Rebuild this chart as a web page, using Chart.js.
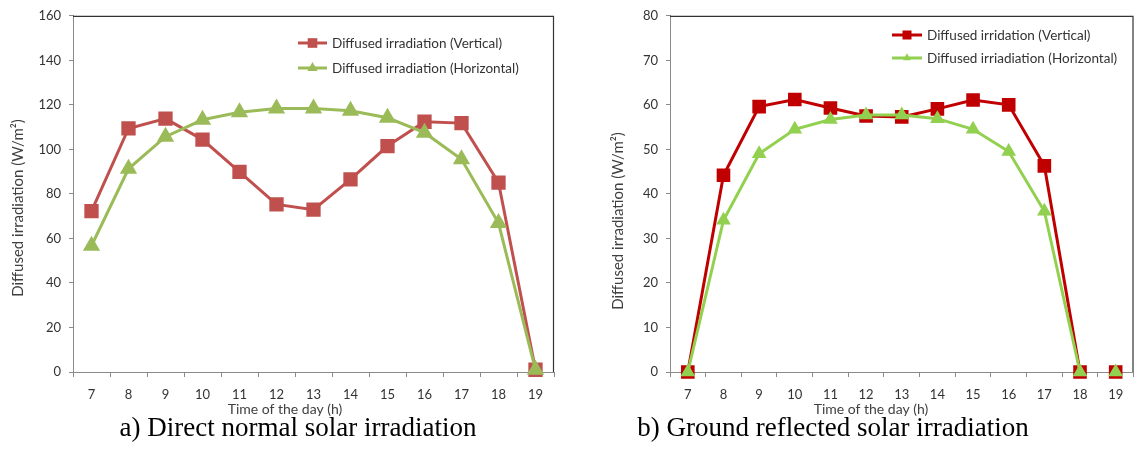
<!DOCTYPE html>
<html>
<head>
<meta charset="utf-8">
<script src="https://cdn.jsdelivr.net/npm/chart.js@4.4.1/dist/chart.umd.min.js"></script>
<style>
  html, body { margin: 0; padding: 0; background: #fff; }
  body { width: 1144px; height: 450px; position: relative; overflow: hidden; }
  .wrap { position: absolute; top: 0; height: 422px; }
  #wrapA { left: 0; width: 565px; }
  #wrapB { left: 580px; width: 564px; }
  .caption {
    position: absolute; top: 412px; line-height: 30px;
    font-family: "Liberation Serif", "DejaVu Serif", serif; font-size: 27px;
    color: #000; white-space: nowrap; transform: translateX(-50%);
  }
</style>
</head>
<body>
<div class="wrap" id="wrapA"><canvas id="chartA" width="565" height="422"></canvas></div>
<div class="wrap" id="wrapB"><canvas id="chartB" width="564" height="422"></canvas></div>
<div class="caption" style="left:298px">a) Direct normal solar irradiation</div>
<div class="caption" style="left:833px">b) Ground reflected solar irradiation</div>

<script>
/* ========================================
   DATA
======================================== */
const hours = ["7", "8", "9", "10", "11", "12", "13", "14", "15", "16", "17", "18", "19"];

// a) direct normal
const directVertical   = [72.3, 109.4, 113.8, 104.4, 89.9, 75.3, 72.9, 86.5, 101.5, 112.4, 111.8, 85.1, 1];
const directHorizontal = [56.7, 91.3, 105.7, 113.3, 116.7, 118.4, 118.4, 117.3, 114.2, 107.5, 95.6, 66.9, 1];
const directLabels = ["Diffused irradiation (Vertical)", "Diffused irradiation (Horizontal)"];
const directAxisMax = 160;
const directStep = 20;

// b) ground reflected
const groundVertical   = [0, 44.2, 59.6, 61.2, 59.3, 57.5, 57.3, 59.1, 61.1, 60.0, 46.3, 0, 0];
const groundHorizontal = [0, 34.1, 49.0, 54.5, 56.7, 57.7, 57.7, 56.9, 54.5, 49.5, 36.1, 0, 0];
const groundLabels = ["Diffused irridation (Vertical)", "Diffused irriadiation (Horizontal)"];
const groundAxisMax = 80;
const groundStep = 10;

const xTitle = "Time of the day (h)";
const yTitle = "Diffused irradiation (W/m\u00B2)";

const FONT = "Lato, 'Liberation Sans', sans-serif";

/* ========================================
   PLUGINS
======================================== */
// dark top/right frame around the plot
const framePlugin = {
  id: "frame",
  afterDraw(chart) {
    const { ctx, chartArea: a } = chart;
    ctx.save();
    ctx.strokeStyle = "#333";
    ctx.lineWidth = 1.2;
    ctx.beginPath();
    ctx.moveTo(a.left, a.top + 0.5);
    ctx.lineTo(a.right - 0.5, a.top + 0.5);
    ctx.lineTo(a.right - 0.5, a.bottom);
    ctx.stroke();
    ctx.restore();
  }
};

function drawMarker(ctx, style, x, y, r) {
  ctx.beginPath();
  if (style === "rect") {
    const s = r * Math.SQRT1_2;
    ctx.rect(x - s, y - s, 2 * s, 2 * s);
  } else {
    const h = r * 1.5, e = r * Math.sqrt(3);
    ctx.moveTo(x - e / 2, y + h / 3);
    ctx.lineTo(x + e / 2, y + h / 3);
    ctx.lineTo(x, y - 2 * h / 3);
    ctx.closePath();
  }
  ctx.fill();
}

// legend in the upper right of the plot, one row per series
const cornerLegend = {
  id: "cornerLegend",
  afterDraw(chart, args, opts) {
    const ctx = chart.ctx;
    ctx.save();
    ctx.font = opts.font;
    ctx.textBaseline = "middle";
    chart.data.datasets.forEach((ds, i) => {
      const y = opts.y + i * opts.rowGap;
      ctx.strokeStyle = ds.borderColor;
      ctx.lineWidth = ds.borderWidth;
      ctx.beginPath();
      ctx.moveTo(opts.x, y);
      ctx.lineTo(opts.x + opts.lineLen, y);
      ctx.stroke();
      ctx.fillStyle = ds.pointBackgroundColor;
      drawMarker(ctx, ds.pointStyle, opts.x + opts.lineLen / 2, y, ds.pointRadius * 0.85);
      ctx.fillStyle = "#333";
      ctx.fillText(ds.label, opts.x + opts.lineLen + 5, y + 1);
    });
    ctx.restore();
  }
};

// axis titles, placed like the Excel original
const axisTitles = {
  id: "axisTitles",
  afterDraw(chart, args, opts) {
    const ctx = chart.ctx;
    ctx.save();
    ctx.fillStyle = "#404040";
    ctx.textAlign = "center";
    ctx.textBaseline = "middle";
    ctx.font = "14px " + FONT;
    ctx.fillText(xTitle, opts.xTitleX, opts.xTitleY);
    ctx.font = "15px " + FONT;
    ctx.translate(opts.yTitleX, opts.yTitleY);
    ctx.rotate(-Math.PI / 2);
    ctx.fillText(yTitle, 0, 0);
    ctx.restore();
  }
};

/* ========================================
   BUILD ONE CHART
======================================== */
function makeChart(id, cfg) {
  const ctx = document.getElementById(id).getContext("2d");

  const makeSet = (label, data, color, style, radius, order) => ({
    label,
    data,
    borderColor: color,
    backgroundColor: color,
    pointBackgroundColor: color,
    pointBorderColor: color,
    borderWidth: 3,
    pointStyle: style,
    pointRadius: radius,
    pointHoverRadius: radius,
    tension: 0,
    clip: false,
    order,
    segment: cfg.hideLast ? {
      borderColor: c => c.p0DataIndex === hours.length - 2 ? "rgba(0,0,0,0)" : undefined
    } : undefined
  });

  return new Chart(ctx, {
    type: "line",
    data: {
      labels: hours,
      datasets: [
        makeSet(cfg.labels[0], cfg.vertical, cfg.red, "rect", cfg.rectR, 2),
        makeSet(cfg.labels[1], cfg.horizontal, cfg.green, "triangle", cfg.triR, 1)
      ]
    },
    options: {
      responsive: false,
      animation: false,
      layout: { padding: cfg.padding },
      plugins: {
        legend: { display: false },
        tooltip: { enabled: false },
        cornerLegend: cfg.legend,
        axisTitles: cfg.titles
      },
      scales: {
        x: {
          type: "category",
          offset: true,
          grid: { offset: true, drawOnChartArea: false, tickLength: 5, color: "#8a8a8a" },
          border: { color: "#8a8a8a" },
          ticks: { padding: 10, color: "#333", font: { family: FONT, size: 13 } },
          afterFit: s => { s.height = cfg.xHeight; }
        },
        y: {
          min: 0,
          max: cfg.max,
          ticks: { stepSize: cfg.step, padding: 8, color: "#333", font: { family: FONT, size: 13 } },
          grid: { drawOnChartArea: false, tickLength: 4, color: "#8a8a8a" },
          border: { color: "#8a8a8a" },
          afterFit: s => { s.width = cfg.yWidth; }
        }
      }
    },
    plugins: [framePlugin, cornerLegend, axisTitles]
  });
}

/* ========================================
   INITIAL LOAD
======================================== */
makeChart("chartA", {
  vertical: directVertical,
  horizontal: directHorizontal,
  labels: directLabels,
  max: directAxisMax,
  step: directStep,
  red: "#C0504D",
  green: "#9BBB59",
  rectR: 8,
  triR: 7,
  padding: { left: 0, top: 15, right: 10, bottom: 0 },
  yWidth: 73,
  xHeight: 50,
  titles: { xTitleX: 285, xTitleY: 409, yTitleX: 18, yTitleY: 208 },
  legend: { x: 298, y: 43, rowGap: 25, lineLen: 29, font: "13.5px " + FONT }
});

makeChart("chartB", {
  vertical: groundVertical,
  horizontal: groundHorizontal,
  labels: groundLabels,
  max: groundAxisMax,
  step: groundStep,
  red: "#C00000",
  green: "#92D050",
  rectR: 7.5,
  triR: 5.5,
  hideLast: true,
  padding: { left: 0, top: 11, right: 1, bottom: 0 },
  yWidth: 90,
  xHeight: 50,
  titles: { xTitleX: 291, xTitleY: 409, yTitleX: 38, yTitleY: 221 },
  legend: { x: 312, y: 35, rowGap: 23, lineLen: 30, font: "13.5px " + FONT }
});
</script>
</body>
</html>
